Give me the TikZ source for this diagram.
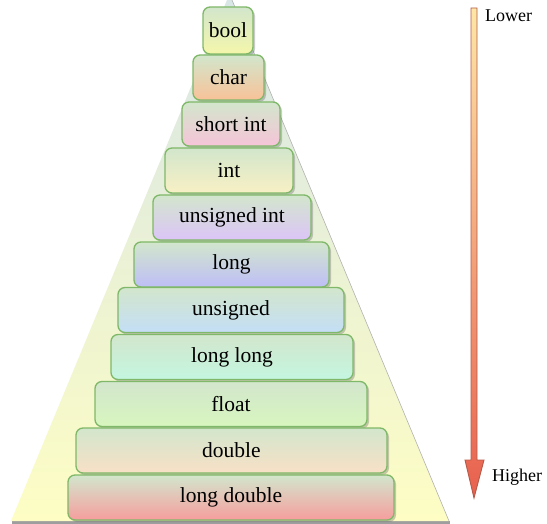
\documentclass[tikz,border=0pt]{standalone}
\usepackage{fontspec}
\setmainfont{Liberation Serif}
\newfontfamily\timesfont{Liberation Serif}
\usetikzlibrary{shadows}
\definecolor{boxtop}{HTML}{D2E6CC}
\definecolor{boxborder}{HTML}{7FB868}
\definecolor{bgtop}{HTML}{D8E6E6}
\definecolor{bgbot}{HTML}{FDFDC4}
\definecolor{arrtop}{HTML}{FDE6A6}
\definecolor{arrbot}{HTML}{E8604E}
\definecolor{arrline}{HTML}{B45A48}
\definecolor{cbool}{HTML}{F4F6AA}
\definecolor{cchar}{HTML}{F8C298}
\definecolor{cshort}{HTML}{F6C4D8}
\definecolor{cint}{HTML}{F8F0C4}
\definecolor{cuint}{HTML}{DCC4F8}
\definecolor{clong}{HTML}{BEBEF6}
\definecolor{cuns}{HTML}{C4DEF6}
\definecolor{cll}{HTML}{C4F6E0}
\definecolor{cfloat}{HTML}{D8F6BE}
\definecolor{cdouble}{HTML}{F8E0C6}
\definecolor{cld}{HTML}{F69E9E}
\tikzset{
  tbox/.style={draw=boxborder, line width=1.3pt, rounded corners=7pt,
    top color=boxtop, inner sep=0pt, font=\timesfont\fontsize{21.5}{24}\selectfont,
    drop shadow={shadow xshift=2pt, shadow yshift=-2pt, opacity=0.35, fill=black!60}},
  lbl/.style={font=\timesfont\fontsize{18}{20}\selectfont, anchor=west, inner sep=0pt}
}
\begin{document}
\begin{tikzpicture}[x=1pt,y=-1pt]
\useasboundingbox (0,0) rectangle (547,524);
% background pyramid
\fill[black!38] (12,520.5) rectangle (450,524);
\path[top color=bgtop, bottom color=bgbot] (227,0) -- (232,0) -- (449,521) -- (11,521) -- cycle;
\draw[black!30, line width=0.6pt] (232,0) -- (449,521);
% boxes
\node[tbox, bottom color=cbool, minimum width=50pt, minimum height=47pt] (bool) at (228,30.5) {bool};
\node[tbox, bottom color=cchar, minimum width=71pt, minimum height=45pt] (char) at (228.5,77.5) {char};
\node[tbox, bottom color=cshort, minimum width=98pt, minimum height=44pt] (short) at (231,124) {short int};
\node[tbox, bottom color=cint, minimum width=128pt, minimum height=45pt] (int) at (229,170.5) {int};
\node[tbox, bottom color=cuint, minimum width=158pt, minimum height=45pt] (uint) at (232,217.5) {unsigned int};
\node[tbox, bottom color=clong, minimum width=195pt, minimum height=45pt] (long) at (231.5,264.5) {long};
\node[tbox, bottom color=cuns, minimum width=226pt, minimum height=45pt] (uns) at (231,310) {unsigned};
\node[tbox, bottom color=cll, minimum width=242pt, minimum height=45pt] (ll) at (232,357) {long long};
\node[tbox, bottom color=cfloat, minimum width=272pt, minimum height=45pt] (float) at (231,404) {float};
\node[tbox, bottom color=cdouble, minimum width=311pt, minimum height=45pt] (double) at (231.5,450.5) {double};
\node[tbox, bottom color=cld, minimum width=326pt, minimum height=45pt] (ld) at (231,497.5) {long double};
% arrow
\path[draw=arrline, line width=0.9pt, top color=arrtop, bottom color=arrbot]
  (471,8) -- (477,8) -- (477,460) -- (484,460) -- (474,498) -- (465,460) -- (471,460) -- cycle;
\node[lbl] (lower) at (485,16) {Lower};
\node[lbl] (higher) at (492,477) {Higher};
\end{tikzpicture}
\end{document}
